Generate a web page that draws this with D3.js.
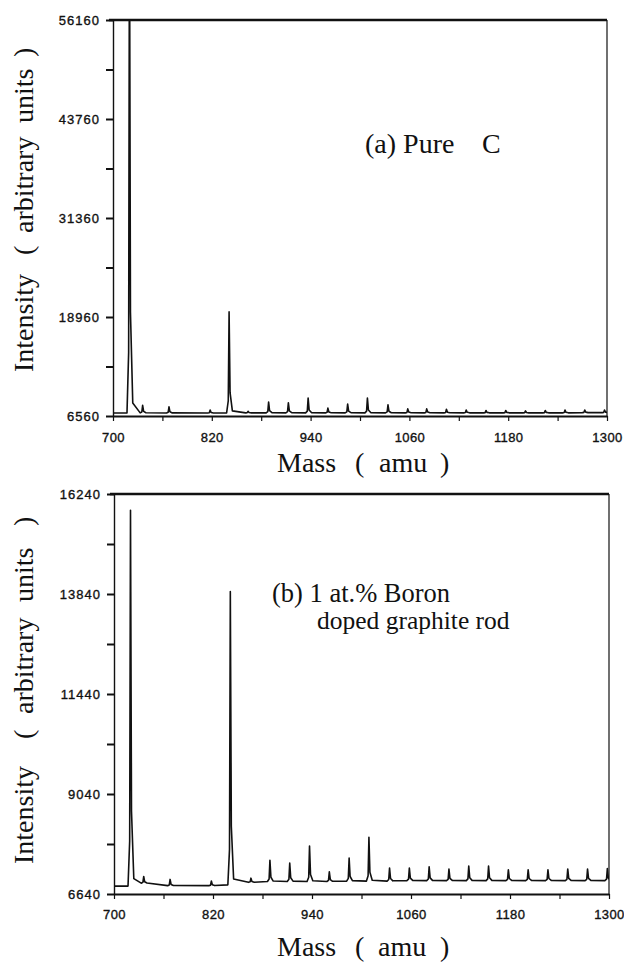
<!DOCTYPE html>
<html><head><meta charset="utf-8">
<script src="https://cdn.jsdelivr.net/npm/d3@7/dist/d3.min.js"></script>
<style>
body{margin:0;background:#fff;}
svg{display:block;}
</style></head>
<body>
<svg id="c" width="624" height="966"></svg>
<script>
// ---------- data ----------
const xTicks = [700,760,820,880,940,1000,1060,1120,1180,1240,1300];
const xTickLabels = ["700","820","940","1060","1180","1300"];

const yMajorA = [6560,18960,31360,43760,56160];
const yMinorA = [12760,25160,37560,49960];
const yMajorB = [6640,9040,11440,13840,16240];
const yMinorB = [7840,10240,12640,15040];

// peak masses (amu) and apex intensities
const massA = [720,736,768,818,841,864,889,913,937,961,985,1009,1034,1058,1081,1105,1129,1153,1177,1201,1225,1249,1273,1297];
const peakA = [70000,7900,7700,7300,19600,7150,8300,8200,8800,7550,8050,8800,7950,7450,7450,7400,7300,7250,7250,7200,7250,7300,7300,7300];
const baseA = [6930,6950,6930,6930,6950,6950,6950,6950,6950,6950,6950,6950,6950,6950,6950,6950,6950,6950,6950,6950,6950,6950,6980,6980];

const massB = [720,736,768,818,841,866,889,913,937,961,985,1009,1034,1058,1082,1106,1130,1154,1178,1202,1226,1250,1274,1298];
const peakB = [15850,7060,6990,6950,13900,7020,7450,7380,7790,7170,7500,8000,7260,7260,7290,7240,7310,7310,7220,7220,7220,7240,7240,7250];
const baseB = [6830,6900,6840,6840,6860,6920,6940,6940,6940,6940,6950,6950,6950,6960,6960,6960,6960,6960,6960,6960,6960,6960,6960,6960];

// title text pieces
const massTitle = ["Mass","(","amu",")"];
const intTitle = ["Intensity","(","arbitrary","units",")"];

// ---------- drawing ----------
const SERIF = "Liberation Serif";
const SANS = "Liberation Sans";
const svg = d3.select("#c");

function stxt(parent, s, size, x, y){
  return parent.append("text").attr("font-family",SERIF).attr("font-size",size)
    .attr("fill","#111").attr("x",x).attr("y",y).text(s);
}

function panel(o){
  const x = d3.scaleLinear().domain([700,1300]).range([o.x0,o.x1]);
  const y = d3.scaleLinear().domain(o.yDom).range([o.yb,o.yt]);
  const g = svg.append("g");
  const cid = "clip"+o.id;
  svg.append("clipPath").attr("id",cid).append("rect")
    .attr("x",o.x0).attr("y",o.yt).attr("width",o.x1-o.x0).attr("height",o.yb-o.yt);

  // spectrum trace
  const pts = [[700,o.base[0]]];
  o.mass.forEach((m,i)=>{
    const b=o.base[i], h=o.peak[i], d=h-b;
    pts.push([m-3,b],[m-1,b+0.12*d],[m,h],[m+1.2,b+0.2*d],[m+4,b+0.02*d]);
  });
  pts.push([1300,o.base[o.base.length-1]]);
  const line = d3.line().x(d=>x(d[0])).y(d=>y(d[1]));
  g.append("path").attr("d",line(pts)).attr("fill","none").attr("stroke","#111")
    .attr("stroke-width",1.6).attr("stroke-linejoin","round").attr("clip-path",`url(#${cid})`);

  // frame
  g.append("line").attr("x1",o.x0-4).attr("x2",o.x1).attr("y1",o.yt).attr("y2",o.yt).attr("stroke","#111").attr("stroke-width",2.6);
  g.append("line").attr("x1",o.x1).attr("x2",o.x1).attr("y1",o.yt).attr("y2",o.yb).attr("stroke","#111").attr("stroke-width",1.2);

  // y axis
  const yAll = o.yMajor.concat(o.yMinor).sort((a,b)=>a-b);
  const ya = g.append("g").attr("transform",`translate(${o.x0},0)`)
    .call(d3.axisLeft(y).tickValues(yAll).tickSizeInner(7).tickSizeOuter(0).tickPadding(6)
      .tickFormat(v=>o.yMajor.includes(v)?String(v):""));
  ya.attr("font-family",SANS);
  ya.select(".domain").attr("stroke","#111").attr("stroke-width",1.4);
  ya.selectAll(".tick line").attr("stroke","#111").attr("stroke-width",2);
  ya.selectAll(".tick text").attr("font-size",13).attr("letter-spacing","1px").attr("fill","#111")
    .attr("stroke","#111").attr("stroke-width",0.35);

  // x axis
  const xa = g.append("g").attr("transform",`translate(0,${o.yb})`)
    .call(d3.axisBottom(x).tickValues(xTicks).tickSizeInner(5).tickSizeOuter(0).tickPadding(o.xpad)
      .tickFormat(v=>{const s=String(v);return xTickLabels.includes(s)?s:"";}));
  xa.attr("font-family",SANS);
  xa.select(".domain").attr("stroke","#111").attr("stroke-width",2.2);
  xa.selectAll(".tick line").attr("stroke","#111").attr("stroke-width",1.2);
  xa.selectAll(".tick text").attr("font-size",13).attr("letter-spacing","0.4px").attr("fill","#111")
    .attr("stroke","#111").attr("stroke-width",0.35);

  // x title, placed piece by piece
  massTitle.forEach((s,i)=> stxt(svg,s,28,o.mPos[i],o.my));
  // y title, rotated, pieces placed along the axis
  const gy = svg.append("g").attr("transform",`translate(${o.ix},${o.iy}) rotate(-90)`);
  intTitle.forEach((s,i)=> stxt(gy,s,28,o.iPos[i],0));
  // annotations
  o.ann.forEach(a=> stxt(svg,a.t,a.fs,a.x,a.y));
}

panel({id:"a",x0:113,x1:607,yt:20,yb:416,yDom:[6560,56160],yMajor:yMajorA,yMinor:yMinorA,
  mass:massA,peak:peakA,base:baseA,xpad:12,
  mPos:[277,355,379,440],my:472,
  ix:33,iy:372,iPos:[0,117,139,249,315],
  ann:[{x:365,y:153,fs:28,t:"(a) Pure"},{x:482,y:153,fs:28,t:"C"}]});

panel({id:"b",x0:114,x1:609,yt:494,yb:894,yDom:[6640,16240],yMajor:yMajorB,yMinor:yMinorB,
  mass:massB,peak:peakB,base:baseB,xpad:11,
  mPos:[277,355,378,440],my:956,
  ix:33,iy:864,iPos:[0,125,150,262,338],
  ann:[{x:272,y:602,fs:26.5,t:"(b) 1 at.% Boron"},{x:317,y:629,fs:25.5,t:"doped graphite rod"}]});
</script>
</body></html>
